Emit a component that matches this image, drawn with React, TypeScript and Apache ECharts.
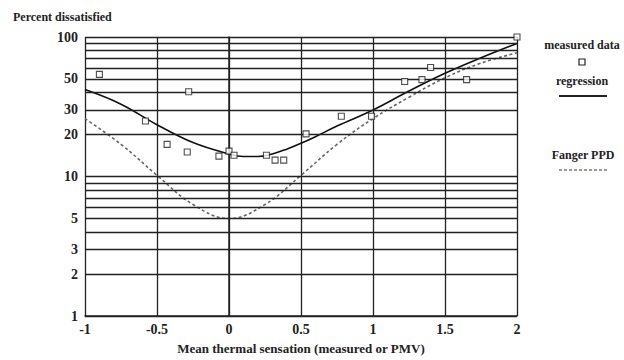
import React, { useEffect, useRef } from "react";
import * as echarts from "echarts";

const xTicks = [-1, -0.5, 0, 0.5, 1, 1.5, 2];
const gridValues = [1, 2, 3, 4, 5, 6, 7, 8, 9, 10, 20, 30, 40, 50, 60, 70, 80, 90, 100];
const yTickLabels = [1, 2, 3, 5, 10, 20, 30, 50, 100];

const measuredX = [-0.9, -0.58, -0.43, -0.29, -0.28, -0.07, 0.0, 0.035, 0.26, 0.32, 0.38, 0.535, 0.78, 0.99, 1.22, 1.34, 1.4, 1.65, 2.0];
const measuredY = [54, 25, 17, 15, 40.5, 14, 15.2, 14.2, 14.2, 13.1, 13.1, 20.2, 27, 27, 48, 49.5, 60.5, 49.5, 100];

const regressionX = [-1, -0.75, -0.5, -0.25, 0, 0.1, 0.2, 0.3, 0.4, 0.5, 0.6, 0.75, 1, 1.25, 1.5, 1.75, 2];
const regressionY = [42, 33, 23.5, 17.5, 14.5, 13.9, 13.9, 14.5, 15.7, 17.3, 19.3, 23, 30, 41, 55, 71, 90];

const fangerX = [-1, -0.75, -0.5, -0.25, 0, 0.25, 0.5, 0.75, 1, 1.25, 1.5, 1.75, 2];
const fangerY = [26, 17, 10.2, 6.3, 5, 6.3, 10.2, 17, 26, 37, 51, 65, 77];

const FONT = "'Liberation Serif', 'Times New Roman', serif";
const INK = "#222";

export default function App() {
  const ref = useRef<HTMLDivElement>(null);
  useEffect(() => {
    if (!ref.current) return;
    const chart = echarts.init(ref.current, null, { renderer: "svg" });
    const option: any = {
      animation: false,
      backgroundColor: "#fff",
      grid: { left: 85, right: 107, top: 37, bottom: 41, containLabel: false },
      xAxis: {
        type: "value",
        min: -1,
        max: 2,
        interval: 0.5,
        axisLine: { show: true, lineStyle: { color: INK, width: 1.5 } },
        axisTick: { show: false },
        splitLine: { show: true, lineStyle: { color: INK, width: 1.3 } },
        axisLabel: {
          color: INK,
          fontFamily: FONT,
          fontSize: 14,
          fontWeight: "bold",
          margin: 6,
          formatter: (v: number) => (xTicks.includes(v) ? String(v) : ""),
        },
        name: "Mean thermal sensation (measured or PMV)",
        nameLocation: "middle",
        nameGap: 26,
        nameTextStyle: { color: INK, fontFamily: FONT, fontSize: 13, fontWeight: "bold" },
      },
      yAxis: {
        type: "log",
        logBase: 10,
        min: 1,
        max: 100,
        axisLine: { show: true, lineStyle: { color: INK, width: 1.5 } },
        axisTick: { show: false },
        axisLabel: { show: false },
        splitLine: { show: false },
      },
      graphic: [
        {
          type: "text",
          left: 13,
          top: 11,
          style: { text: "Percent dissatisfied", font: `bold 12px ${FONT}`, fill: INK },
        },
        {
          type: "text",
          x: 582,
          y: 45,
          style: { text: "measured data", font: `bold 12px ${FONT}`, fill: INK, textAlign: "center", textVerticalAlign: "middle" },
        },
        {
          type: "rect",
          shape: { x: 579, y: 59, width: 6, height: 6 },
          style: { fill: "#fff", stroke: INK, lineWidth: 1.2 },
        },
        {
          type: "text",
          x: 582,
          y: 81,
          style: { text: "regression", font: `bold 12px ${FONT}`, fill: INK, textAlign: "center", textVerticalAlign: "middle" },
        },
        {
          type: "line",
          shape: { x1: 559, y1: 96, x2: 607, y2: 96 },
          style: { stroke: INK, lineWidth: 2 },
        },
        {
          type: "text",
          x: 583,
          y: 155,
          style: { text: "Fanger PPD", font: `bold 12px ${FONT}`, fill: INK, textAlign: "center", textVerticalAlign: "middle" },
        },
        {
          type: "line",
          shape: { x1: 559, y1: 170, x2: 607, y2: 170 },
          style: { stroke: "#777", lineWidth: 1.5, lineDash: [3, 2] },
        },
      ],
      series: [
        {
          name: "grid",
          type: "line",
          data: [],
          z: 1,
          silent: true,
          markLine: {
            silent: true,
            symbol: "none",
            lineStyle: { color: INK, width: 1.3, type: "solid" },
            label: {
              show: true,
              position: "start",
              distance: 7,
              color: INK,
              fontFamily: FONT,
              fontSize: 14,
              fontWeight: "bold",
              formatter: (p: any) => (yTickLabels.includes(p.value) ? String(p.value) : ""),
            },
            data: gridValues.map((v) => ({ yAxis: v })),
          },
        },
        {
          name: "Fanger PPD",
          type: "line",
          z: 3,
          smooth: 0.4,
          showSymbol: false,
          lineStyle: { color: "#666", width: 1.6, type: [3, 2.5] },
          data: fangerX.map((x, i) => [x, fangerY[i]]),
        },
        {
          name: "regression",
          type: "line",
          z: 4,
          smooth: 0.4,
          showSymbol: false,
          lineStyle: { color: "#111", width: 1.6 },
          data: regressionX.map((x, i) => [x, regressionY[i]]),
        },
        {
          name: "measured data",
          type: "scatter",
          z: 5,
          symbol: "rect",
          symbolSize: 6,
          itemStyle: { color: "#fff", borderColor: INK, borderWidth: 1.1 },
          data: measuredX.map((x, i) => [x, measuredY[i]]),
        },
      ],
    };
    chart.setOption(option);
    return () => chart.dispose();
  }, []);
  return (
    <div
      ref={ref}
      style={{ position: "fixed", left: 0, top: 0, width: 624, height: 360, background: "#fff" }}
    />
  );
}
